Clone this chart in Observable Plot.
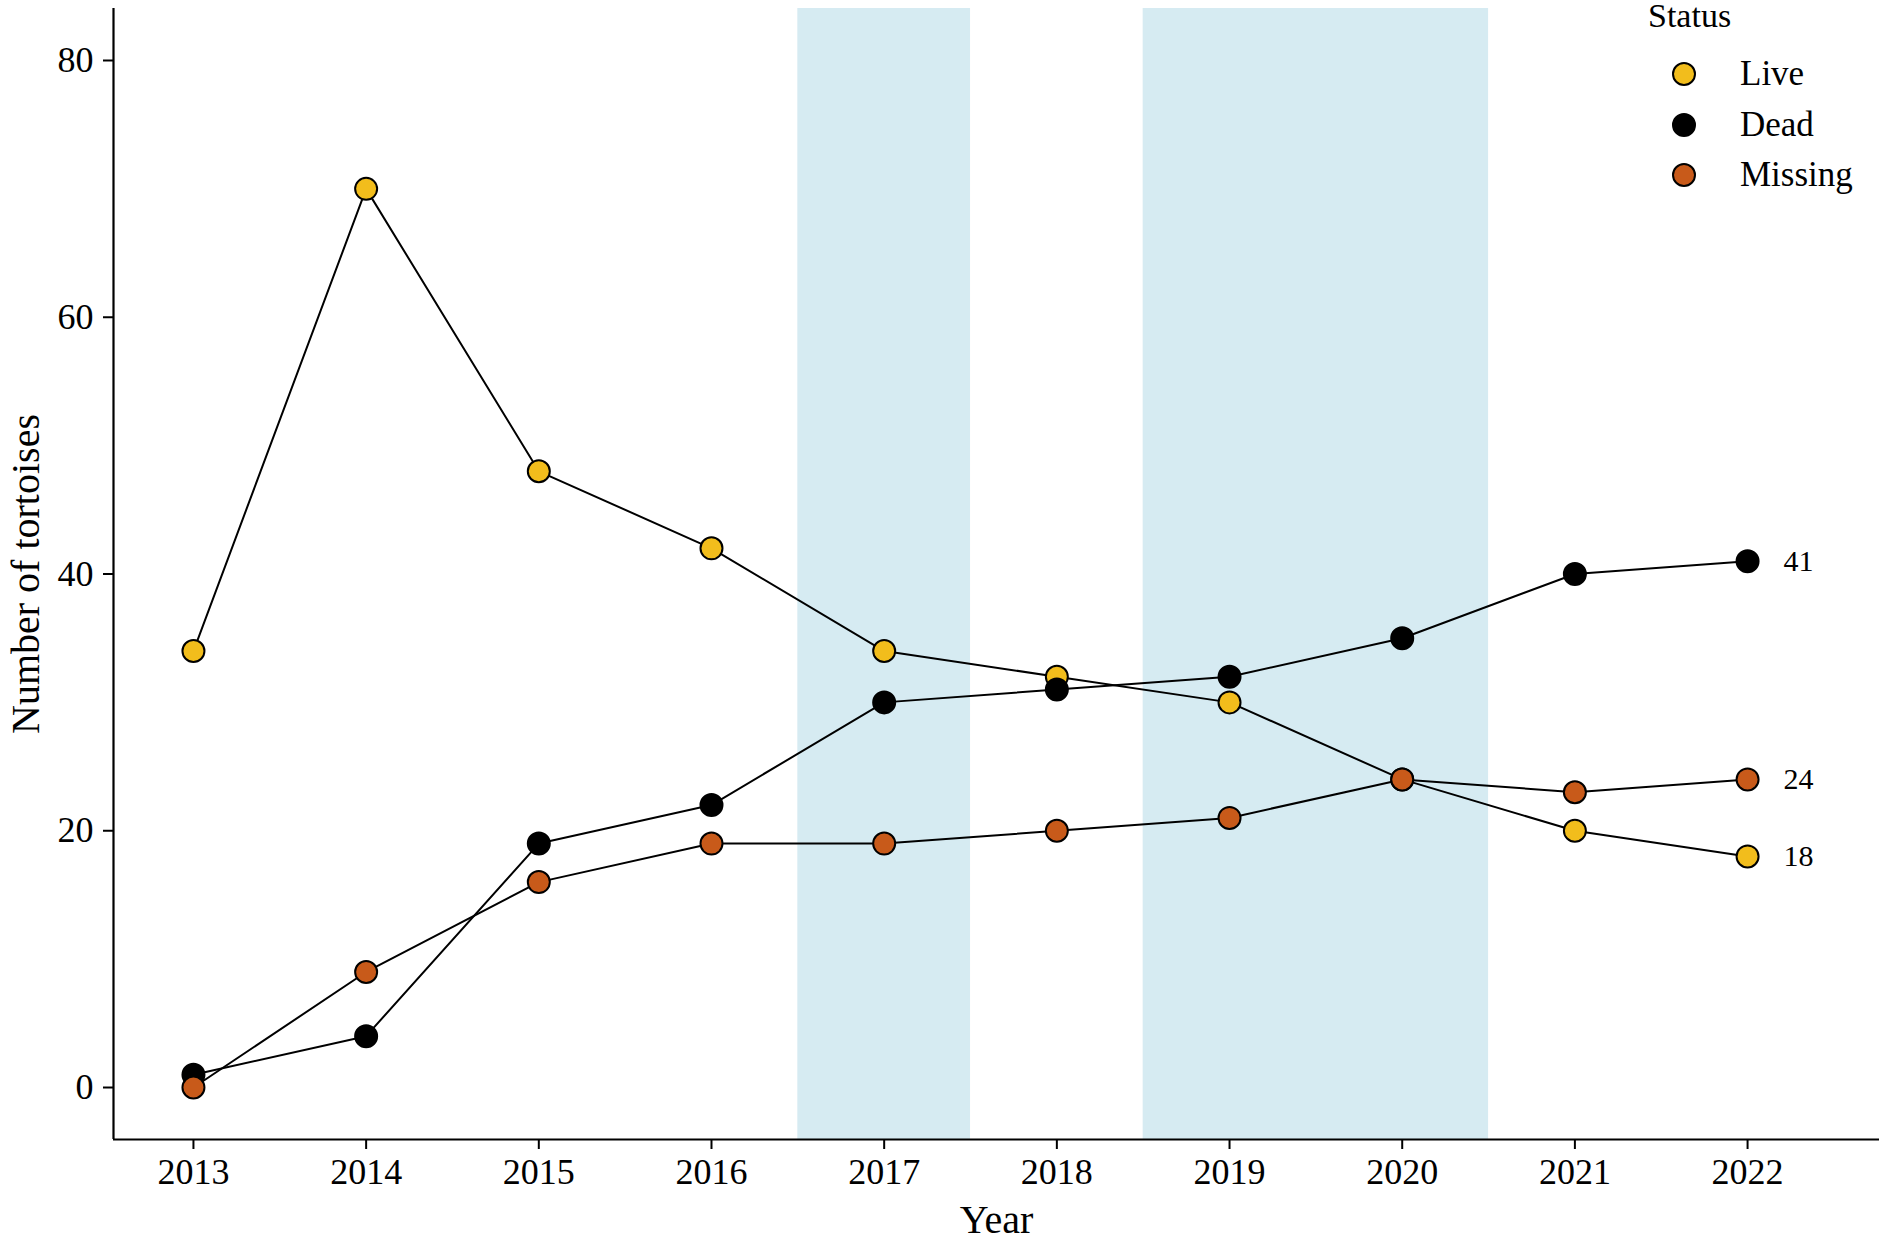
<!DOCTYPE html>
<html>
<head>
<meta charset="utf-8">
<script src="https://cdn.jsdelivr.net/npm/d3@7"></script>
<script src="https://cdn.jsdelivr.net/npm/@observablehq/plot@0.6"></script>
<style>
  html, body { margin: 0; padding: 0; background: #fff; }
  #wrap { position: relative; width: 1888px; height: 1240px; font-family: "Liberation Serif", "DejaVu Serif", serif; }
  #legend { position: absolute; left: 1648px; top: 0px; color: #000; }
  #legend .title { font-size: 34px; line-height: 32px; margin-top: 0px; }
  #legend .row { display: flex; align-items: center; height: 50.5px; font-size: 35px; }
  #legend .row svg { margin-left: 23px; margin-right: 43px; }
</style>
</head>
<body>
<div id="wrap"><div id="chart"></div><div id="legend"></div></div>
<script>
const years = [2013, 2014, 2015, 2016, 2017, 2018, 2019, 2020, 2021, 2022];
const statuses = ["Live", "Dead", "Missing"];
const live =    [34, 70, 48, 42, 34, 32, 30, 24, 20, 18];
const dead =    [1, 4, 19, 22, 30, 31, 32, 35, 40, 41];
const missing = [0, 9, 16, 19, 19, 20, 21, 24, 23, 24];
const colors = ["#F2BD1C", "#000000", "#C85A1A"];
const shadeStart = [2016.5, 2018.5];
const shadeEnd = [2017.5, 2020.5];
const yTicks = [0, 20, 40, 60, 80];
const xDomain = [2012.537, 2022.764];
const yDomain = [-4.05, 84.05];

const series = [live, dead, missing];
const data = [];
statuses.forEach((s, i) => years.forEach((yr, j) => data.push({year: yr, count: series[i][j], status: s})));
const lastPts = statuses.map((s, i) => ({year: years[years.length - 1], count: series[i][years.length - 1], status: s}));
const shades = shadeStart.map((s, i) => ({start: s, end: shadeEnd[i]}));

const font = "Liberation Serif, DejaVu Serif, serif";

const chart = Plot.plot({
  width: 1888,
  height: 1240,
  marginLeft: 113,
  marginRight: 9,
  marginTop: 8,
  marginBottom: 101,
  style: {fontFamily: font, background: "white", color: "black"},
  x: {domain: xDomain},
  y: {domain: yDomain},
  color: {domain: statuses, range: colors},
  marks: [
    Plot.rect(shades, {x1: "start", x2: "end", fill: "#ADD8E6", fillOpacity: 0.5}),
    Plot.ruleY([yDomain[0]], {stroke: "black", strokeWidth: 2.2}),
    Plot.ruleX([xDomain[0]], {stroke: "black", strokeWidth: 2.2}),
    Plot.axisX({ticks: years, tickFormat: d => String(d), tickSize: 10, tickPadding: 9, fontSize: 36, strokeWidth: 2, label: null}),
    Plot.axisY({ticks: yTicks, tickSize: 10, tickPadding: 10, fontSize: 36, strokeWidth: 2, label: null}),
    Plot.text(["Year"], {frameAnchor: "bottom", dy: 93, fontSize: 40, fontFamily: font, lineAnchor: "bottom"}),
    Plot.text(["Number of tortoises"], {frameAnchor: "left", dx: -87, rotate: -90, textAnchor: "middle", fontSize: 40, fontFamily: font, lineAnchor: "middle"}),
    Plot.line(data, {x: "year", y: "count", z: "status", stroke: "black", strokeWidth: 2}),
    Plot.dot(data, {x: "year", y: "count", fill: "status", r: 11, stroke: "black", strokeWidth: 2}),
    Plot.text(lastPts, {x: "year", y: "count", text: d => String(d.count), dx: 36, textAnchor: "start", fontSize: 30, fontFamily: font})
  ]
});
document.getElementById("chart").appendChild(chart);

// legend
const legend = document.getElementById("legend");
const t = document.createElement("div");
t.className = "title";
t.textContent = "Status";
legend.appendChild(t);
const spacer = document.createElement("div");
spacer.style.height = "17px";
legend.appendChild(spacer);
statuses.forEach((s, i) => {
  const row = document.createElement("div");
  row.className = "row";
  row.innerHTML = `<svg width="26" height="26"><circle cx="13" cy="13" r="11" fill="${colors[i]}" stroke="black" stroke-width="2"/></svg><span>${s}</span>`;
  legend.appendChild(row);
});
</script>
</body>
</html>
